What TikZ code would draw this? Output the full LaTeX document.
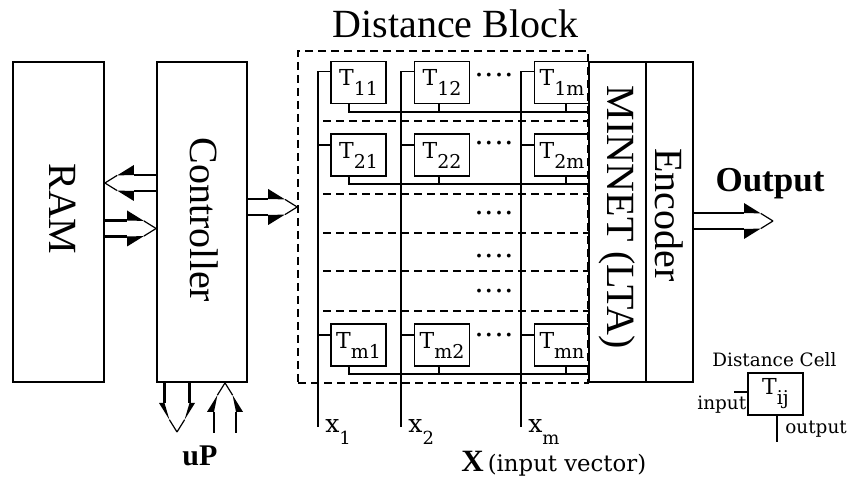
\documentclass[tikz,border=0pt]{standalone}
\usepackage{fontspec}
\setmainfont{Liberation Serif}
\newfontfamily\cellfont{DejaVu Serif}
\usepackage{tikz}
\usetikzlibrary{calc}
\newcommand{\tsub}[1]{{\cellfont\fontsize{11}{12}\selectfont T\raisebox{-5pt}{\fontsize{9.5}{10}\selectfont #1}}}
\newcommand{\xsub}[1]{{\cellfont\fontsize{12.5}{14}\selectfont x\raisebox{-6pt}{\fontsize{9}{10}\selectfont #1}}}
\newcommand{\fourdots}{.\hspace{1pt}.\hspace{1pt}.\hspace{1pt}.}
\tikzset{
  blockbox/.style = {draw,line width=0.9pt,inner sep=0pt,minimum height=160pt},
  cellbox/.style  = {draw,line width=0.9pt,inner sep=0pt,minimum width=27.5pt,minimum height=21pt},
  wire/.style     = {line width=0.9pt},
  sepline/.style  = {line width=0.8pt,dash pattern=on 4pt off 2.5pt},
  busline/.style  = {line width=1.4pt},
  rotlbl/.style   = {rotate=-90,inner sep=0pt,font=\fontsize{20}{22}\selectfont},
  dotrow/.style   = {inner sep=0pt,font=\fontsize{16}{16}\selectfont},
  smalltxt/.style = {inner sep=0pt,font=\cellfont\fontsize{9.2}{10}\selectfont}
}
% hollow bus arrow: [half width]{from}{to}
\newcommand{\busarrow}[3][4pt]{%
  \coordinate (ba) at (#2);
  \coordinate (bb) at (#3);
  \coordinate (bh) at ($(bb)!14.5pt!(ba)$);
  \draw[busline] ($(ba)!#1!90:(bb)$) -- ($(bh)!#1!90:(bb)$)
                 ($(ba)!#1!-90:(bb)$) -- ($(bh)!#1!-90:(bb)$);
  \foreach \s in {90,-90}{
    \coordinate (bo) at ($(bh)!9pt!\s:(bb)$);
    \coordinate (bp) at ($(bo)!0.58!(bb)$);
    \fill ($(bh)!#1!\s:(bb)$) -- (bo) -- (bp) -- cycle;
    \draw[line width=0.6pt] (bp) -- (bb);
  }%
}

\begin{document}
\begin{tikzpicture}[x=0.5pt,y=-0.5pt]
  \useasboundingbox (0,0) rectangle (848,480);
  % distance block frame
  \node[draw,sepline,inner sep=0pt,minimum width=145pt,minimum height=166pt] (dblock) at (443,217) {};
  \node[inner sep=0pt,font=\fontsize{20}{22}\selectfont] (dbtitle) at (455.5,23.5) {Distance Block};
  \foreach \y in {121,194,233,271,311}
    \draw[sepline] (323,\y) -- (588,\y);

  % main blocks
  \node[blockbox,minimum width=45.5pt,label={[xshift=2.25pt,yshift=6.5pt,rotlbl,name=ramlbl]center:RAM}] (ram) at (58.5,222) {};
  \node[blockbox,minimum width=45pt,label={[xshift=1pt,yshift=1pt,rotlbl,name=ctrllbl]center:Controller}] (ctrl) at (202,222) {};
  \node[blockbox,minimum width=28.5pt,label={[yshift=2.25pt,rotlbl,name=minnetlbl]center:MINNET (LTA)}] (minnet) at (617.5,222) {};
  \node[blockbox,minimum width=23.5pt,label={[yshift=3.5pt,rotlbl,name=enclbl]center:Encoder}] (encoder) at (669.5,222) {};

  % distance cells
  \node[cellbox] (t11) at (358.5,82.5) {\tsub{11}};
  \node[cellbox] (t12) at (442,82.5)   {\tsub{12}};
  \node[cellbox] (t1m) at (562,82.5)   {\tsub{1m}};
  \node[cellbox] (t21) at (358.5,155)  {\tsub{21}};
  \node[cellbox] (t22) at (442,155)    {\tsub{22}};
  \node[cellbox] (t2m) at (562,155)    {\tsub{2m}};
  \node[cellbox] (tm1) at (358.5,345)  {\tsub{m1}};
  \node[cellbox] (tm2) at (442,345)    {\tsub{m2}};
  \node[cellbox] (tmn) at (562,345)    {\tsub{mn}};

  \node[dotrow] (dots1) at (494,75)  {\fourdots};
  \node[dotrow] (dots2) at (494,143) {\fourdots};
  \node[dotrow] (dots3) at (494,213) {\fourdots};
  \node[dotrow] (dots4) at (494,256) {\fourdots};
  \node[dotrow] (dots5) at (494,291) {\fourdots};
  \node[dotrow] (dots6) at (494,335) {\fourdots};

  % input lines
  \coordinate (x1) at (318,427);
  \coordinate (x2) at (401,427);
  \coordinate (xm) at (521,427);
  \foreach \a/\b/\c/\x in {t11/t21/tm1/x1, t12/t22/tm2/x2, t1m/t2m/tmn/xm} {
    \draw[wire] (\x) |- ([yshift=-5.5pt]\a.north west);
    \draw[wire] ([yshift=-6pt]\b.north west) -- ([yshift=-6pt]\b.north west -| \x);
    \draw[wire] ([yshift=-6pt]\c.north west) -- ([yshift=-6pt]\c.north west -| \x);
  }
  % output lines
  \foreach \a/\b/\c in {t11/t12/t1m, t21/t22/t2m, tm1/tm2/tmn} {
    \draw[wire] ([xshift=9.5pt]\a.south west) |- ([yshift=-3.75pt]\c.south -| minnet.west);
    \draw[wire] ([xshift=-1.5pt]\b.south) -- ([xshift=-1.5pt,yshift=-3.75pt]\b.south);
    \draw[wire] ([xshift=2pt]\c.south) -- ([xshift=2pt,yshift=-3.75pt]\c.south);
  }
  \node[anchor=west,inner sep=0pt] (x1lbl) at (325,432.5) {\xsub{1}};
  \node[anchor=west,inner sep=0pt] (x2lbl) at (408,432.5) {\xsub{2}};
  \node[anchor=west,inner sep=0pt] (xmlbl) at (528,432.5) {\xsub{m}};
  \node[anchor=base west,inner sep=0pt] (xveclbl) at (461,472)
    {\bfseries\fontsize{15.5}{18}\selectfont X\hspace{2pt}{\cellfont\mdseries\fontsize{11.4}{13}\selectfont (input vector)}};

  % buses
  \busarrow{ctrl.west |- 0,183}{ram.east |- 0,183}
  \busarrow{ram.east |- 0,228.5}{ctrl.west |- 0,228.5}
  \busarrow{ctrl.east |- 0,207}{dblock.west |- 0,207}
  \coordinate (outtip) at (773,221);
  \busarrow{encoder.east |- outtip}{outtip}
  \coordinate (updown) at (177,432);
  \busarrow[6.25pt]{ctrl.south -| updown}{updown}
  \coordinate (upin) at (225,433);
  \busarrow[5.5pt]{upin}{ctrl.south -| upin}
  \node[anchor=base,inner sep=0pt,font=\bfseries\fontsize{17.5}{20}\selectfont] (outlbl) at (770,192) {Output};
  \node[inner sep=0pt,font=\bfseries\fontsize{15}{18}\selectfont] (uplbl) at (200,456) {uP};

  % legend
  \node[cellbox] (dcell) at (775.5,394) {\tsub{ij}};
  \node[smalltxt,anchor=base west] (dctitle) at (712,367) {Distance Cell};
  \coordinate (cellinend) at (734,392);
  \draw[wire] (cellinend) -- (cellinend -| dcell.west);
  \node[smalltxt,anchor=base west] (cellinlbl) at (697,410) {input};
  \coordinate (celloutend) at (777,442);
  \draw[wire] (dcell.south -| celloutend) -- (celloutend);
  \node[smalltxt,anchor=base west] (celloutlbl) at (785,434) {output};
\end{tikzpicture}
\end{document}
